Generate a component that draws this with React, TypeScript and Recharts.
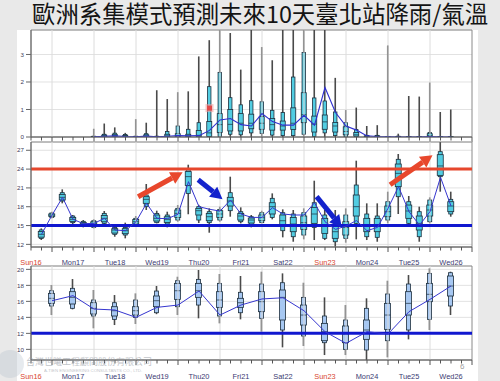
import React from 'react';
import { ComposedChart, Bar, Line, XAxis, YAxis, CartesianGrid, ReferenceLine, ReferenceArea, Scatter } from 'recharts';

// ---------- categories ----------
const dayLabels = ['Sun16', 'Mon17', 'Tue18', 'Wed19', 'Thu20', 'Fri21', 'Sat22', 'Sun23', 'Mon24', 'Tue25', 'Wed26'];
const dayIsSunday = [true, false, false, false, false, false, false, true, false, false, false];
const dayBoundaries = [1, 2, 3, 4, 5, 6, 7, 8, 9, 10];

const sixHourTimes = [0.75, 1, 1.25, 1.5, 1.75, 2, 2.25, 2.5, 2.75, 3, 3.25, 3.5, 3.75, 4, 4.25, 4.5, 4.75, 5, 5.25, 5.5,
  5.75, 6, 6.25, 6.5, 6.75, 7, 7.25, 7.5, 7.75, 8, 8.25, 8.5, 8.75, 9, 9.25, 9.5, 9.75, 10, 10.25, 10.5];
const halfDayTimes = [1, 1.5, 2, 2.5, 3, 3.5, 4, 4.5, 5, 5.5, 6, 6.5, 7, 7.5, 8, 8.5, 9, 9.5, 10, 10.5];

// ---------- rain (6-hour, mm) ----------
const N = null;
const rainWhiskerHigh = [N, N, N, N, N, 0.30, 0.49, 0.35, 0.15, 0.65, 0.52, 1.70, 1.38, 1.63, 1.66, 2.93, 3.52, 3.89, 3.78, 2.45,
  3.89, 3.27, 2.79, 3.89, 3.89, 3.89, 3.89, 3.89, 2.15, 0.98, 1.07, 0.40, 0.43, 3.33, 0.12, 1.49, 1.47, 1.98, 0.91, 1.00];
const rainOuterHigh = [N, N, N, N, N, 0.03, 0.10, 0.14, 0.09, 0.03, 0.12, 0.03, 0.20, 0.40, 0.28, 0.52, 1.83, 2.35, 1.43, 1.17,
  1.32, 1.28, 0.97, 0.89, 2.18, 3.07, 1.42, 1.31, 0.91, 0.52, 0.27, 0.06, 0.06, 0.02, 0.03, 0.02, 0.02, 0.16, 0.02, 0.02];
const rainInnerHigh = [N, N, N, N, N, 0.02, 0.07, 0.10, 0.06, 0.02, 0.08, 0.02, 0.10, 0.12, 0.10, 0.24, 0.56, 0.85, 1.00, 0.85,
  0.83, 0.74, 0.67, 0.58, 1.06, 1.61, 0.76, 0.80, 0.53, 0.37, 0.16, 0.04, 0.04, 0.01, 0.02, 0.01, 0.01, 0.12, 0.01, 0.01];
const rainMedian = [N, N, N, N, N, 0.01, 0.04, 0.06, 0.03, 0.01, 0.04, 0.01, 0.04, 0.04, 0.03, 0.06, 0.15, 0.45, 0.46, 0.50,
  0.50, 0.50, 0.45, 0.40, 0.50, 0.81, 0.47, 0.55, 0.40, 0.20, 0.08, 0.02, 0.02, 0, 0.01, 0, 0, 0.05, 0, 0];
const rainInnerLow = [N, N, N, N, N, 0, 0.01, 0.02, 0.01, 0, 0.01, 0, 0.01, 0.01, 0.01, 0.01, 0.02, 0.16, 0.22, 0.22,
  0.30, 0.28, 0.25, 0.25, 0.27, 0.52, 0.18, 0.28, 0.18, 0.08, 0.03, 0, 0, 0, 0, 0, 0, 0.01, 0, 0];
const rainOuterLow = [N, N, N, N, N, 0, 0, 0, 0, 0, 0, 0, 0, 0, 0, 0, 0, 0.02, 0.10, 0.08,
  0.15, 0.13, 0.07, 0.05, 0.05, 0.10, 0.02, 0.15, 0.05, 0.01, 0, 0, 0, 0, 0, 0, 0, 0, 0, 0];
const rainWhiskerLow = [N, N, N, N, N, 0, 0, 0, 0, 0, 0, 0, 0, 0, 0, 0, 0, 0, 0, 0,
  0, 0, 0, 0, 0, 0, 0, 0, 0, 0, 0, 0, 0, 0, 0, 0, 0, 0, 0, 0];
const rainMean = [N, N, N, N, N, 0.01, 0.03, 0.04, 0.02, 0.01, 0.03, 0.01, 0.03, 0.05, 0.04, 0.05, 0.24, 0.62, 0.67, 0.45,
  0.40, 0.85, 0.56, 0.43, 0.43, 0.79, 0.43, 1.80, 0.89, 0.40, 0.25, 0.04, 0.02, 0.01, 0, 0, 0, 0.02, 0, 0];
const rainObserved = [{ t: 4.75, v: 1.05 }];

// ---------- temperature (6-hour, °C) ----------
const tempWhiskerLow = [12.7, 16.15, 18.54, 15.24, 14.71, 14.55, 15.08, 13.22, 12.96, 14.82, 17.48, 15.35, 14.71, 15.61, 16.8, 15.4, 13.86, 15.61, 16.41, 15.35,
  14.71, 15.35, 15.99, 13.12, 12.42, 12.8, 12.69, 12.69, 11.63, 12.27, 12.8, 12.69, 12.42, 15.35, 16.84, 15.08, 12.42, 15.35, 20.4, 16.41];
const tempOuterLow = [12.95, 16.3, 18.91, 15.46, 14.92, 14.71, 15.35, 13.6, 13.49, 15.03, 18.01, 15.46, 15.24, 15.88, 20.1, 15.88, 15.46, 15.88, 17.37, 15.61,
  15.08, 15.46, 16.3, 14.18, 13.22, 13.49, 14.71, 12.96, 12.42, 12.96, 15.35, 13.22, 13.12, 15.88, 19.6, 15.35, 13.22, 15.61, 22.79, 16.84];
const tempInnerLow = [13.15, 16.45, 19.07, 15.65, 15.05, 14.95, 15.6, 13.8, 13.7, 15.25, 18.54, 15.72, 15.5, 16.3, 21.4, 16.68, 15.77, 16.3, 18.11, 15.88,
  15.4, 15.77, 16.84, 14.92, 14.02, 14.39, 15.35, 13.75, 12.96, 13.49, 16.52, 14.02, 14.02, 16.41, 21.2, 16.15, 14.29, 16.52, 23.0, 17.21];
const tempMedian = [13.6, 16.65, 19.5, 15.99, 15.3, 15.35, 16.15, 14.29, 14.18, 15.61, 19.18, 16.15, 15.99, 16.94, 22.8, 17.37, 16.41, 16.84, 18.91, 16.52,
  15.88, 16.25, 18.01, 15.77, 15.24, 15.46, 16.84, 14.92, 14.02, 14.71, 18.01, 15.08, 14.92, 17.21, 23.32, 17.32, 15.35, 17.48, 24.5, 18.11];
const tempInnerHigh = [14.05, 16.85, 19.97, 16.3, 15.5, 15.6, 16.6, 14.5, 14.5, 15.95, 19.6, 16.68, 16.4, 17.48, 23.6, 17.74, 16.94, 17.37, 19.5, 16.94,
  16.2, 16.68, 18.64, 16.68, 16.3, 16.52, 17.9, 16.15, 15.08, 15.61, 19.87, 16.15, 16.15, 18.11, 24.81, 18.27, 16.52, 18.27, 26.3, 18.8];
const tempOuterHigh = [14.3, 17.0, 20.24, 16.52, 15.67, 15.77, 16.94, 14.71, 14.71, 16.15, 19.87, 16.94, 16.68, 17.74, 23.9, 18.01, 17.21, 17.58, 20.24, 17.21,
  16.41, 17.05, 19.34, 17.05, 16.84, 17.05, 18.64, 16.68, 15.61, 16.68, 21.46, 16.84, 16.52, 18.8, 25.56, 18.8, 17.21, 19.07, 26.78, 19.18];
const tempWhiskerHigh = [14.55, 17.2, 20.77, 16.68, 15.88, 15.99, 17.32, 14.92, 15.46, 16.52, 21.62, 17.37, 17.21, 18.27, 24.7, 18.3, 17.74, 18.01, 22.79, 17.9,
  16.68, 17.37, 20.13, 17.58, 17.48, 17.74, 22.15, 17.48, 17.48, 17.74, 25.34, 18.54, 18.54, 20.4, 26.41, 19.71, 18.01, 19.5, 28.3, 20.4];
const tempMean = [13.6, 16.65, 19.5, 15.99, 15.3, 15.35, 16.15, 14.29, 14.18, 15.61, 18.54, 16.15, 16.1, 16.8, 22.0, 18.0, 17.6, 17.3, 19.07, 16.84,
  16.3, 16.3, 17.85, 16.84, 16.68, 16.68, 18.64, 15.61, 14.39, 14.92, 15.8, 14.18, 14.71, 17.74, 21.2, 17.21, 15.08, 17.21, 22.69, 18.11];

// ---------- temperature (12-hour, °C) ----------
const t12WhiskerLow = [14.29, 15.0, 12.63, 13.04, 13.17, 14.4, 14.29, 13.88, 13.25, 13.75, 12.21, 10.25, 10.42, 9.29, 9.29, 8.67, 9.0, 11.25, 12.42, 14.29];
const t12OuterLow = [15.42, 15.13, 14.17, 13.75, 14.0, 14.58, 15.33, 15.54, 14.17, 14.58, 13.88, 12.42, 11.67, 10.83, 10.0, 9.92, 11.08, 12.42, 13.75, 15.42];
const t12InnerLow = [15.75, 15.67, 14.42, 14.17, 14.29, 15.33, 16.25, 16.5, 15.25, 15.25, 14.71, 13.67, 13.04, 11.08, 10.83, 11.25, 12.5, 14.29, 15.96, 16.67];
const t12Median = [16.38, 16.5, 15.13, 14.83, 14.83, 16.08, 17.33, 17.33, 16.17, 15.83, 15.96, 16.5, 14.29, 12.21, 11.92, 12.42, 14.29, 15.75, 16.88, 17.92];
const t12InnerHigh = [17.0, 17.21, 15.83, 15.33, 15.33, 16.67, 18.25, 18.25, 17.21, 16.38, 17.21, 17.42, 15.54, 13.25, 12.92, 13.67, 15.75, 17.21, 18.25, 19.17];
const t12OuterHigh = [17.33, 17.63, 16.17, 15.83, 16.17, 17.29, 18.58, 18.75, 18.25, 17.13, 18.17, 18.33, 16.5, 14.17, 13.67, 15.13, 16.92, 18.17, 19.5, 19.58];
const t12WhiskerHigh = [18.04, 18.79, 17.42, 16.79, 17.0, 17.92, 19.08, 19.92, 19.42, 19.17, 19.71, 19.5, 18.33, 16.5, 15.54, 16.38, 18.58, 19.29, 20.13, 19.71];
const t12Mean = [16.08, 16.71, 15.04, 14.92, 14.0, 15.25, 15.54, 17.29, 14.29, 15.54, 16.3, 16.45, 14.83, 12.21, 10.75, 12.21, 11.92, 14.71, 16.25, 17.92];

// ---------- axis ticks / thresholds ----------
const rainTicks = [0, 1, 2, 3];
const tempTicks = [12, 15, 18, 21, 24, 27];
const t12Ticks = [10, 12, 14, 16, 18, 20];
const hotLine = 24;
const coldLine = 15;
const coldLine12 = 12;
const xTicks = Array.from({ length: 43 }, (_, i) => 0.5 + i * 0.25);

// annotation arrows (data coordinates)
const redArrows = [
  [{ x: 3.05, y: 19.6 }, { x: 4.11, y: 23.5 }],
  [{ x: 9.05, y: 21.5 }, { x: 10.06, y: 26.2 }],
];
const blueArrows = [
  [{ x: 4.48, y: 22.3 }, { x: 5.06, y: 19.2 }],
  [{ x: 7.3, y: 19.6 }, { x: 7.9, y: 14.7 }],
];

// ---------- build rows ----------
const rainRows = sixHourTimes.map((t, i) => ({
  t, wlo: rainWhiskerLow[i], olo: rainOuterLow[i], ilo: rainInnerLow[i], med: rainMedian[i],
  ihi: rainInnerHigh[i], ohi: rainOuterHigh[i], whi: rainWhiskerHigh[i], mean: rainMean[i],
}));
const tempRows = sixHourTimes.map((t, i) => ({
  t, wlo: tempWhiskerLow[i], olo: tempOuterLow[i], ilo: tempInnerLow[i], med: tempMedian[i],
  ihi: tempInnerHigh[i], ohi: tempOuterHigh[i], whi: tempWhiskerHigh[i], mean: tempMean[i],
}));
const t12Rows = halfDayTimes.map((t, i) => ({
  t, wlo: t12WhiskerLow[i], olo: t12OuterLow[i], ilo: t12InnerLow[i], med: t12Median[i],
  ihi: t12InnerHigh[i], ohi: t12OuterHigh[i], whi: t12WhiskerHigh[i], mean: t12Mean[i],
}));

const rangeKey = (d: any) => (d.whi == null ? null : [d.wlo, d.whi]);

const makeBoxShape = (fill: string, outerW: number, innerW: number) => (props: any) => {
  const { x, y, width, height, payload } = props;
  if (!payload || payload.whi == null || x == null || y == null) return <g />;
  const cx = x + width / 2;
  const top = Math.min(y, y + height);
  const bottom = Math.max(y, y + height);
  const lo = payload.wlo;
  const hi = payload.whi;
  const py = (v: number) => (hi === lo ? bottom : bottom - ((v - lo) / (hi - lo)) * (bottom - top));
  const stroke = '#1d2f3d';
  const oTop = py(payload.ohi), oBot = py(payload.olo);
  const iTop = py(payload.ihi), iBot = py(payload.ilo);
  const m = py(payload.med);
  return (
    <g>
      <line x1={cx} x2={cx} y1={top} y2={bottom} stroke="#4a4a4a" strokeWidth={1.6} />
      <rect x={cx - outerW / 2} y={oTop} width={outerW} height={Math.max(oBot - oTop, 0.6)} fill={fill} stroke={stroke} strokeWidth={0.8} />
      <rect x={cx - innerW / 2} y={iTop} width={innerW} height={Math.max(iBot - iTop, 0.6)} fill={fill} stroke={stroke} strokeWidth={0.8} />
      <line x1={cx - innerW / 2} x2={cx + innerW / 2} y1={m} y2={m} stroke={stroke} strokeWidth={0.7} />
    </g>
  );
};

const arrowShape = (color: string) => (p: any) => {
  const { x1, y1, x2, y2 } = p;
  const dx = x2 - x1, dy = y2 - y1;
  const L = Math.hypot(dx, dy) || 1;
  const ux = dx / L, uy = dy / L;
  const headL = 12, headW = 6.5;
  const bx = x2 - ux * headL, by = y2 - uy * headL;
  return (
    <g>
      <line x1={x1} y1={y1} x2={bx} y2={by} stroke={color} strokeWidth={5} />
      <polygon points={`${x2},${y2} ${bx - uy * headW},${by + ux * headW} ${bx + uy * headW},${by - ux * headW}`} fill={color} />
    </g>
  );
};

const makeDayTick = (showLabels: boolean, labelDy: number) => (props: any) => {
  const { x, y, payload } = props;
  const v = payload.value as number;
  const isDay = Math.abs(v - Math.round(v)) < 1e-6;
  const isNoon = Math.abs(v - Math.floor(v) - 0.5) < 1e-6;
  const idx = Math.floor(v);
  return (
    <g>
      <line x1={x} x2={x} y1={y} y2={y + (isDay ? 5 : 3.5)} stroke="#555" strokeWidth={1} />
      {showLabels && isNoon && idx < dayLabels.length && (
        <text x={x} y={y + labelDy} textAnchor="middle" fontSize={7.4} fill={dayIsSunday[idx] ? '#d8452f' : '#3b3a72'}>
          {dayLabels[idx]}
        </text>
      )}
    </g>
  );
};

const ObservedDot = (p: any) => {
  const { cx, cy } = p;
  if (cx == null) return <g />;
  return (
    <g>
      <rect x={cx - 4} y={cy - 4} width={8} height={8} fill="#f4a0a0" opacity={0.6} />
      <rect x={cx - 2.5} y={cy - 2.5} width={5} height={5} fill="#e04848" />
    </g>
  );
};

const X_DOMAIN: [number, number] = [0.5, 11];
const RAIN_DOMAIN: [number, number] = [0, 3.89];
const TEMP_DOMAIN: [number, number] = [11.58, 28.32];
const T12_DOMAIN: [number, number] = [8.67, 20.42];

const yAxisProps = {
  width: 31,
  tickSize: 5,
  tickMargin: 2,
  stroke: '#666',
  tick: { fontSize: 6.2, fill: '#40405a' },
  allowDataOverflow: true,
  interval: 0 as const,
};

const dayGrid = dayBoundaries.map((d) => (
  <ReferenceLine key={`g${d}`} x={d} stroke="#dcdcdc" strokeWidth={1} />
));

export default function App() {
  const W = 500;
  return (
    <div style={{ position: 'absolute', left: 0, top: 0, width: 500, height: 381, background: '#e9e9e9', overflow: 'hidden', fontFamily: '"Liberation Sans", Arial, sans-serif' }}>
      <div style={{ position: 'absolute', left: 17, top: 30, width: 461, height: 351, background: '#ffffff' }} />

      {/* Rain panel */}
      <div style={{ position: 'absolute', left: 0, top: 0 }}>
        <ComposedChart width={W} height={145} data={rainRows} margin={{ top: 30, right: 28, bottom: 0, left: 0 }}>
          <CartesianGrid vertical={false} stroke="#e2e2e2" />
          {dayGrid}
          <XAxis dataKey="t" type="number" domain={X_DOMAIN} ticks={xTicks} interval={0} allowDataOverflow
            height={8} tickSize={0} tickMargin={0} tickLine={false} stroke="#666" tick={makeDayTick(false, 0)} padding={{ left: 0, right: 0 }} />
          <YAxis domain={RAIN_DOMAIN} ticks={rainTicks} {...yAxisProps} />
          <ReferenceArea x1={X_DOMAIN[0]} x2={X_DOMAIN[1]} y1={RAIN_DOMAIN[0]} y2={RAIN_DOMAIN[1]} fill="none" fillOpacity={0} stroke="#8a8a8a" strokeWidth={1} />
          <Bar dataKey={rangeKey} barSize={6} shape={makeBoxShape('#52cde2', 3.4, 5)} isAnimationActive={false} />
          <Line dataKey="mean" type="linear" stroke="#2f2fcf" strokeWidth={1.1} dot={false} isAnimationActive={false} connectNulls={false} />
          <Scatter data={rainObserved} dataKey="v" shape={ObservedDot} isAnimationActive={false} />
        </ComposedChart>
      </div>

      {/* Temperature 6-hour panel */}
      <div style={{ position: 'absolute', left: 0, top: 140 }}>
        <ComposedChart width={W} height={130} data={tempRows} margin={{ top: 2, right: 28, bottom: 0, left: 0 }}>
          <CartesianGrid vertical={false} stroke="#e2e2e2" />
          {dayGrid}
          <XAxis dataKey="t" type="number" domain={X_DOMAIN} ticks={xTicks} interval={0} allowDataOverflow
            height={23} tickSize={0} tickMargin={0} tickLine={false} stroke="#666" tick={makeDayTick(true, 17.5)} padding={{ left: 0, right: 0 }} />
          <YAxis domain={TEMP_DOMAIN} ticks={tempTicks} {...yAxisProps} />
          <ReferenceArea x1={X_DOMAIN[0]} x2={X_DOMAIN[1]} y1={TEMP_DOMAIN[0]} y2={TEMP_DOMAIN[1]} fill="none" fillOpacity={0} stroke="#8a8a8a" strokeWidth={1} />
          <Bar dataKey={rangeKey} barSize={6} shape={makeBoxShape('#52cde2', 4, 6)} isAnimationActive={false} />
          <ReferenceLine y={hotLine} stroke="#e6472d" strokeWidth={3} />
          <ReferenceLine y={coldLine} stroke="#1017cf" strokeWidth={3} />
          <Line dataKey="mean" type="linear" stroke="#3535cf" strokeWidth={1} dot={false} isAnimationActive={false} />
          {redArrows.map((seg, i) => (
            <ReferenceLine key={`ra${i}`} segment={seg} shape={arrowShape('#e8472c')} ifOverflow="visible" />
          ))}
          {blueArrows.map((seg, i) => (
            <ReferenceLine key={`ba${i}`} segment={seg} shape={arrowShape('#1322cc')} ifOverflow="visible" />
          ))}
        </ComposedChart>
      </div>

      {/* Temperature 12-hour panel */}
      <div style={{ position: 'absolute', left: 0, top: 264 }}>
        <ComposedChart width={W} height={117} data={t12Rows} margin={{ top: 2, right: 28, bottom: 0, left: 0 }}>
          <CartesianGrid vertical={false} stroke="#e2e2e2" />
          {dayGrid}
          <XAxis dataKey="t" type="number" domain={X_DOMAIN} ticks={xTicks} interval={0} allowDataOverflow
            height={21} tickSize={0} tickMargin={0} tickLine={false} stroke="#666" tick={makeDayTick(true, 18.8)} padding={{ left: 0, right: 0 }} />
          <YAxis domain={T12_DOMAIN} ticks={t12Ticks} {...yAxisProps} />
          <ReferenceArea x1={X_DOMAIN[0]} x2={X_DOMAIN[1]} y1={T12_DOMAIN[0]} y2={T12_DOMAIN[1]} fill="none" fillOpacity={0} stroke="#8a8a8a" strokeWidth={1} />
          <Bar dataKey={rangeKey} barSize={6} shape={makeBoxShape('#a7c8f2', 4, 6)} isAnimationActive={false} />
          <ReferenceLine y={coldLine12} stroke="#1017cf" strokeWidth={3} />
          <Line dataKey="mean" type="linear" stroke="#3535cf" strokeWidth={1} dot={false} isAnimationActive={false} />
        </ComposedChart>
      </div>

      {/* title, watermark and page number */}
      <svg width={500} height={381} style={{ position: 'absolute', left: 0, top: 0, pointerEvents: 'none' }}>
        <text x={32} y={23} fontSize={23.4} fill="#141414"
          style={{ fontFamily: '"Noto Sans CJK TC", "Noto Sans CJK SC", sans-serif' }}>歐洲系集模式預測未來10天臺北站降雨/氣溫</text>
        <circle cx={10} cy={364} r={14} fill="#b8c4cf" opacity={0.35} />
        <text x={26} y={365} fontSize={9} fill="#9aa0a8" opacity={0.6} style={{ fontFamily: '"Noto Sans CJK TC", sans-serif' }}>台灣世曦工程顧問股份有限公司</text>
        <text x={44} y={372} fontSize={4.3} fill="#9aa0a8" opacity={0.6}>A-TIEN ENGINEERING CONSULTANTS CO., LTD.</text>
        <text x={460} y={369} fontSize={8} fill="#a0a0a0">6</text>
      </svg>
    </div>
  );
}
